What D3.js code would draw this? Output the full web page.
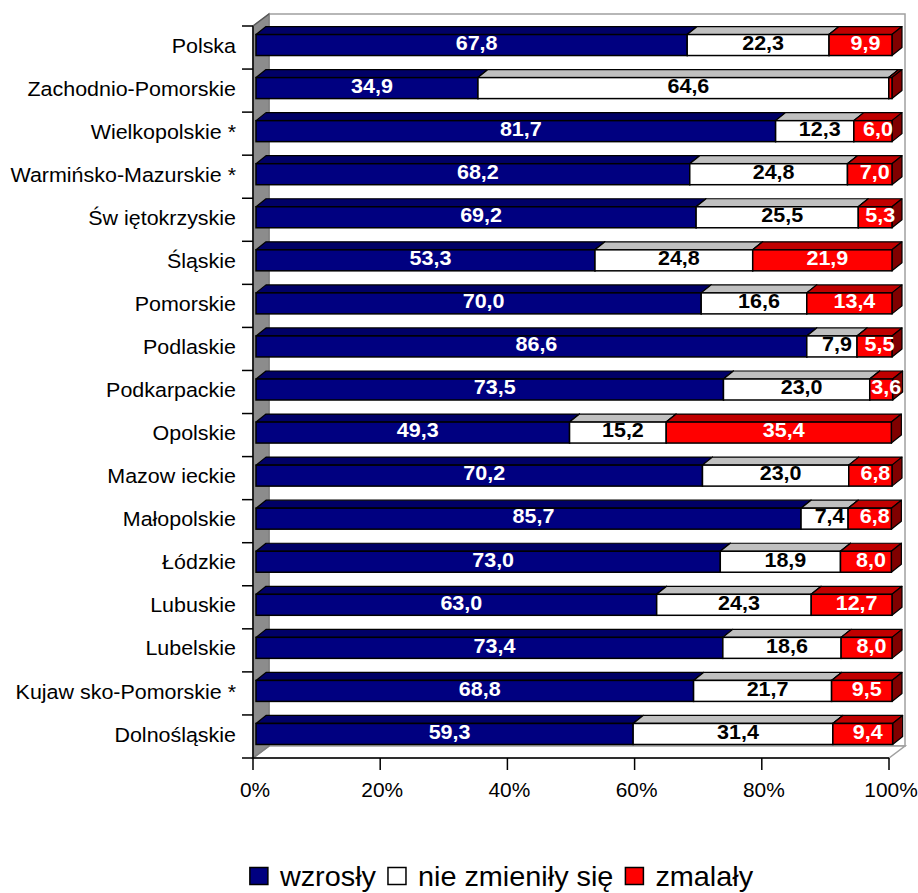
<!DOCTYPE html>
<html>
<head>
<meta charset="utf-8">
<script src="https://cdn.jsdelivr.net/npm/d3@7"></script>
<style>
  html, body { margin: 0; padding: 0; background: #fff; }
  svg { display: block; }
  text { font-family: "Liberation Sans", Arial, sans-serif; }
</style>
</head>
<body>
<svg id="chart" width="918" height="893"></svg>
<script>
const categories = ["Polska", "Zachodnio-Pomorskie", "Wielkopolskie *", "Warmińsko-Mazurskie *",
  "Św iętokrzyskie", "Śląskie", "Pomorskie", "Podlaskie", "Podkarpackie", "Opolskie",
  "Mazow ieckie", "Małopolskie", "Łódzkie", "Lubuskie", "Lubelskie", "Kujaw sko-Pomorskie *", "Dolnośląskie"];
const wzrosly =     [67.8, 34.9, 81.7, 68.2, 69.2, 53.3, 70.0, 86.6, 73.5, 49.3, 70.2, 85.7, 73.0, 63.0, 73.4, 68.8, 59.3];
const nieZmienily = [22.3, 64.6, 12.3, 24.8, 25.5, 24.8, 16.6,  7.9, 23.0, 15.2, 23.0,  7.4, 18.9, 24.3, 18.6, 21.7, 31.4];
const zmalaly =     [ 9.9,  0.5,  6.0,  7.0,  5.3, 21.9, 13.4,  5.5,  3.6, 35.4,  6.8,  6.8,  8.0, 12.7,  8.0,  9.5,  9.4];
const seriesNames = ["wzrosły", "nie zmieniły się", "zmalały"];
const tickValues = [0, 20, 40, 60, 80, 100];
const tickLabels = ["0%", "20%", "40%", "60%", "80%", "100%"];

const svg = d3.select("#chart");

// geometry
const X0 = 253, X1 = 889, Y0 = 26, Y1 = 758;
const WDX = 16, WDY = -12;     // wall depth offset
const BDX = 10, BDY = -8;      // bar depth offset
const BOX = 3, BOY = -2.5;     // bar front-face offset from front plane
const BH = 21;                 // bar front face height

const x = d3.scaleLinear().domain([0, 100]).range([X0, X1]);
const y = d3.scaleBand().domain(categories).range([Y0, Y1]).padding(0);

const colors = [
  { front: "#000080", top: "#000066", side: "#00004a", text: "#ffffff" },
  { front: "#ffffff", top: "#c0c0c0", side: "#808080", text: "#000000" },
  { front: "#ff0000", top: "#c00000", side: "#800000", text: "#ffffff" }
];

function stext(parent, tx, ty, str, size, sx, anchor, weight, fill) {
  return parent.append("text")
    .attr("transform", `translate(${tx},${ty}) scale(${sx},1)`)
    .attr("text-anchor", anchor).attr("dominant-baseline", "central")
    .attr("font-size", size).attr("font-weight", weight).attr("fill", fill).text(str);
}

// walls
const g = svg.append("g");
g.append("rect").attr("x", X0 + WDX).attr("y", Y0 + WDY)
  .attr("width", X1 - X0).attr("height", Y1 - Y0)
  .attr("fill", "#fff").attr("stroke", "#a0a0a0").attr("stroke-width", 1.5);
g.append("path").attr("d", `M${X0},${Y1} L${X1},${Y1} L${X1 + WDX},${Y1 + WDY} L${X0 + WDX},${Y1 + WDY} Z`)
  .attr("fill", "#fff").attr("stroke", "#a0a0a0").attr("stroke-width", 1.5);
g.append("path").attr("d", `M${X0},${Y1} L${X0},${Y0} L${X0 + WDX},${Y0 + WDY} L${X0 + WDX},${Y1 + WDY} Z`)
  .attr("fill", "#8c8c8c").attr("stroke", "#808080").attr("stroke-width", 1.5);

// bars
const stack = categories.map((c, i) => [wzrosly[i], nieZmienily[i], zmalaly[i]]);
const fmt = v => d3.format(".1f")(v).replace(".", ",");

const bars = svg.append("g");
categories.forEach((cat, i) => {
  const yTop = y(cat) + y.bandwidth() / 2 + BOY - BH / 2;
  const yBot = yTop + BH;
  let cum = 0;
  stack[i].forEach((v, s) => {
    const xa = x(cum) + BOX, xb = x(cum + v) + BOX;
    cum += v;
    const c = colors[s];
    const gg = bars.append("g");
    gg.append("path").attr("d", `M${xa},${yTop} L${xa + BDX},${yTop + BDY} L${xb + BDX},${yTop + BDY} L${xb},${yTop} Z`)
      .attr("fill", c.top).attr("stroke", "#000").attr("stroke-width", 1.2).attr("stroke-linejoin", "round");
    gg.append("path").attr("d", `M${xb},${yTop} L${xb + BDX},${yTop + BDY} L${xb + BDX},${yBot + BDY} L${xb},${yBot} Z`)
      .attr("fill", c.side).attr("stroke", "#000").attr("stroke-width", 1.2).attr("stroke-linejoin", "round");
    gg.append("rect").attr("x", xa).attr("y", yTop).attr("width", xb - xa).attr("height", BH)
      .attr("fill", c.front).attr("stroke", "#000").attr("stroke-width", 1.5);
  });
});

// value labels
const labels = svg.append("g");
categories.forEach((cat, i) => {
  const yc = y(cat) + y.bandwidth() / 2 + BOY + BDY / 2 + 1.5;
  let cum = 0;
  stack[i].forEach((v, s) => {
    const xc = x(cum + v / 2) + BOX + BDX / 2;
    cum += v;
    if (v < 2) return;
    stext(labels, xc, yc, fmt(v), 20.5, 1.05, "middle", "bold", colors[s].text);
  });
});

// axes
const ax = svg.append("g");
ax.append("line").attr("x1", X0).attr("x2", X0).attr("y1", Y0).attr("y2", Y1).attr("stroke", "#000").attr("stroke-width", 1.5);
ax.append("line").attr("x1", X0).attr("x2", X0 + WDX).attr("y1", Y0).attr("y2", Y0 + WDY).attr("stroke", "#555").attr("stroke-width", 1.2);
ax.append("line").attr("x1", X0 - 11).attr("x2", X1).attr("y1", Y1).attr("y2", Y1).attr("stroke", "#000").attr("stroke-width", 1.5);
categories.forEach(c => {
  ax.append("line").attr("x1", X0 - 11).attr("x2", X0).attr("y1", y(c)).attr("y2", y(c)).attr("stroke", "#000").attr("stroke-width", 1.5);
});
categories.forEach(c => {
  stext(ax, 236, y(c) + y.bandwidth() / 2 - 2, c, 19.5, 1.1, "end", "normal", "#000");
});
tickValues.forEach((t, k) => {
  ax.append("line").attr("x1", x(t)).attr("x2", x(t)).attr("y1", Y1).attr("y2", Y1 + 12).attr("stroke", "#000").attr("stroke-width", 1.5);
  stext(ax, x(t) + 2, 790, tickLabels[k], 20.5, 1.02, "middle", "normal", "#000");
});

// legend
const leg = svg.append("g");
let lx = 0;
const LSX = 1.03;
seriesNames.forEach((n, s) => {
  leg.append("rect").attr("x", lx).attr("y", -8.5).attr("width", 18).attr("height", 17)
    .attr("fill", colors[s].front).attr("stroke", "#000").attr("stroke-width", 1.5);
  const t = stext(leg, lx + 30, 0, n, 28, LSX, "start", "normal", "#000");
  lx += 30 + t.node().getComputedTextLength() * LSX + 12;
});
const legW = lx - 12;
leg.attr("transform", `translate(${501.5 - legW / 2}, 876)`);
</script>
</body>
</html>
